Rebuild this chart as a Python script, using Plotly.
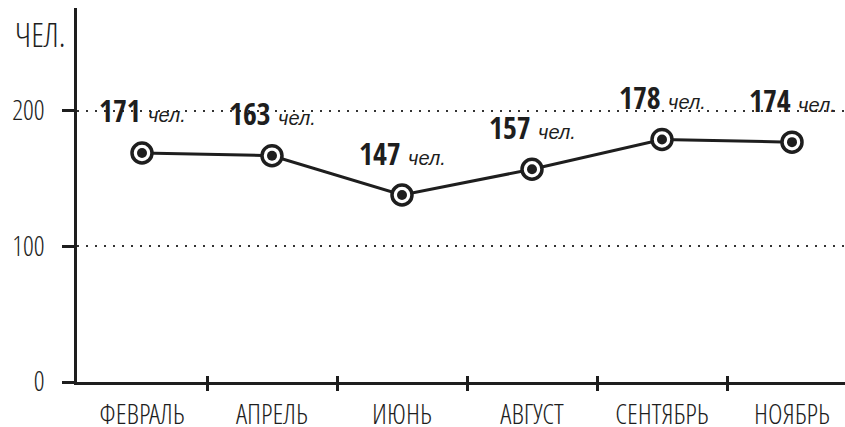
import plotly.graph_objects as go

months = ["ФЕВРАЛЬ", "АПРЕЛЬ", "ИЮНЬ", "АВГУСТ", "СЕНТЯБРЬ", "НОЯБРЬ"]
plotted = [169, 167, 138, 157, 179, 177]
labels = [171, 163, 147, 157, 178, 174]
y_ticks = [0, 100, 200]
boundaries = [0.5, 1.5, 2.5, 3.5, 4.5]

LIGHT = "Open Sans Condensed Light, DejaVu Sans Condensed, sans-serif"
BOLD = "Open Sans Condensed, DejaVu Sans Condensed, sans-serif"
INK = "#1e1e1e"

xs = list(range(len(months)))

fig = go.Figure()
fig.add_trace(go.Scatter(
    x=xs, y=plotted, mode="lines+markers",
    line=dict(color=INK, width=3),
    marker=dict(symbol="circle", size=20, color="white", line=dict(color=INK, width=3.5)),
    hoverinfo="skip", showlegend=False,
))
fig.add_trace(go.Scatter(
    x=xs, y=plotted, mode="markers",
    marker=dict(symbol="circle", size=10, color=INK),
    hoverinfo="skip", showlegend=False,
))
fig.add_trace(go.Scatter(x=[0], y=[0], xaxis="x2", mode="markers",
                         marker=dict(opacity=0), showlegend=False, hoverinfo="skip"))

for i, (v, lab) in enumerate(zip(plotted, labels)):
    fig.add_annotation(
        x=i, y=v, xref="x", yref="y", yshift=42, showarrow=False,
        text=f"<b>{lab}</b> <span style='font-family:Liberation Sans;font-size:20px'><i>чел.</i></span>",
        font=dict(family=BOLD, size=30, color=INK),
    )

fig.add_annotation(
    x=0, y=1, xref="paper", yref="paper", xanchor="right", yanchor="top",
    xshift=-9, yshift=-2, showarrow=False, text="ЧЕЛ.",
    font=dict(family=LIGHT, size=33, color=INK),
)

x_range = [-0.5, -0.5 + 768 / 130]

fig.update_layout(
    width=845, height=427,
    margin=dict(l=77, r=0, t=8, b=45),
    paper_bgcolor="white", plot_bgcolor="white",
    showlegend=False,
    xaxis=dict(
        range=x_range, tickmode="array", tickvals=xs, ticktext=months,
        ticks="", ticklabelstandoff=5,
        minor=dict(tickmode="array", tickvals=boundaries,
                   ticks="outside", ticklen=6, tickwidth=2.5, tickcolor=INK),
        showline=True, linecolor=INK, linewidth=3,
        showgrid=False, zeroline=False, automargin=False,
        tickfont=dict(family=LIGHT, size=28, color=INK),
        fixedrange=True,
    ),
    xaxis2=dict(
        overlaying="x", anchor="y", range=x_range, tickmode="array",
        tickvals=boundaries, ticks="inside", ticklen=6, tickwidth=2.5,
        tickcolor=INK, showticklabels=False, showline=False, showgrid=False,
        zeroline=False, side="bottom", automargin=False,
    ),
    yaxis=dict(
        range=[0, 276], tickmode="array", tickvals=y_ticks,
        ticks="outside", ticklen=12, tickwidth=3, tickcolor=INK,
        ticklabelstandoff=12,
        showline=True, linecolor=INK, linewidth=3,
        showgrid=True, gridcolor="#333333", gridwidth=2, griddash="2px,7px",
        zeroline=False, automargin=False,
        tickfont=dict(family=LIGHT, size=27, color=INK),
    ),
)

fig.write_html("out.html", config={"displayModeBar": False},
               post_script="document.body.style.margin='0';")
